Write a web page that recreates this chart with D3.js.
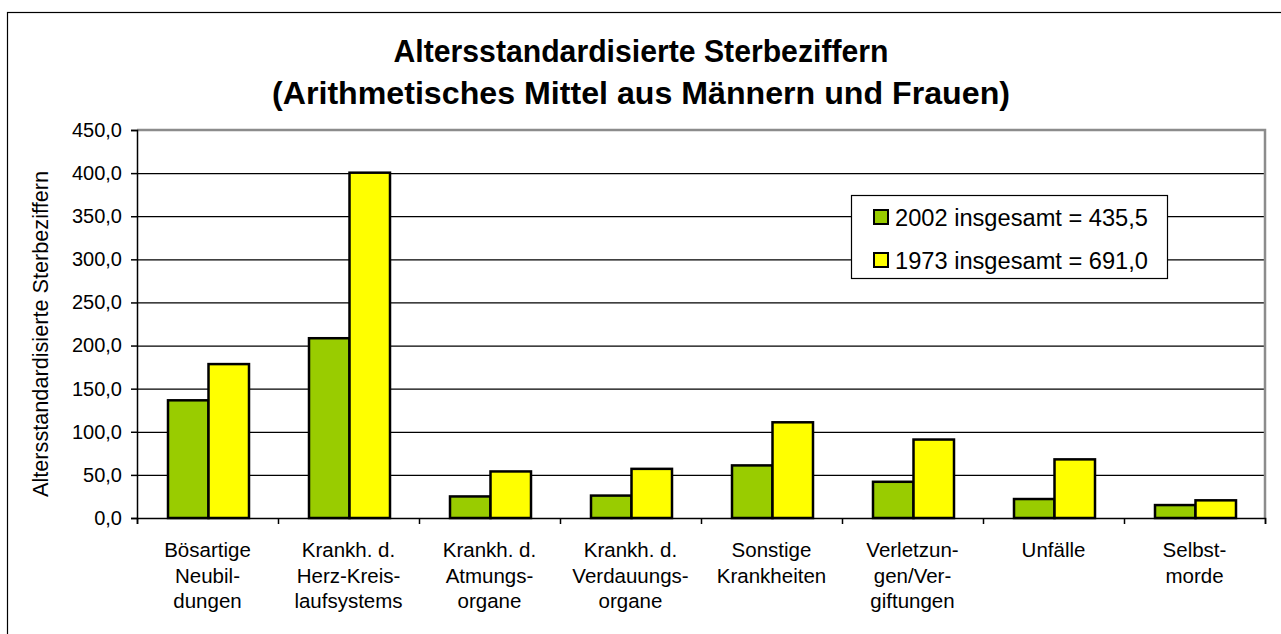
<!DOCTYPE html>
<html><head><meta charset="utf-8">
<script src="https://cdn.jsdelivr.net/npm/d3@7"></script>
<style>body{margin:0;background:#fff;} text{font-family:"Liberation Sans",Arial,sans-serif;}</style>
</head><body>
<svg id="c" width="1281" height="634"></svg>
<script>
const categories = [
  ["Bösartige","Neubil-","dungen"],
  ["Krankh. d.","Herz-Kreis-","laufsystems"],
  ["Krankh. d.","Atmungs-","organe"],
  ["Krankh. d.","Verdauungs-","organe"],
  ["Sonstige","Krankheiten"],
  ["Verletzun-","gen/Ver-","giftungen"],
  ["Unfälle"],
  ["Selbst-","morde"]
];
const series = ["2002 insgesamt = 435,5", "1973 insgesamt = 691,0"];
const values2002 = [136.5, 208.5, 25, 26, 61, 42, 22, 15];
const values1973 = [178.5, 400.5, 54, 57, 111, 91, 68, 20.5];
const yTicks = [0,50,100,150,200,250,300,350,400,450];
const titleLines = ["Altersstandardisierte Sterbeziffern","(Arithmetisches Mittel aus Männern und Frauen)"];
const yTitle = "Altersstandardisierte Sterbeziffern";
const colors = ["#99CC00", "#FFFF00"];

const svg = d3.select("#c");
svg.append("rect").attr("x",7.5).attr("y",12.5).attr("width",1400).attr("height",700)
  .attr("fill","none").attr("stroke","#000").attr("stroke-width",1.2);

const L=137, R=1265, T=130, B=518;
const x0 = d3.scaleBand().domain(d3.range(categories.length)).range([L,R]);
const x1 = d3.scaleBand().domain([0,1]).range([31,112]);
const y = d3.scaleLinear().domain([0,450]).range([B,T]);

svg.append("g").selectAll("line").data(yTicks.filter(t=>t>0 && t<450)).join("line")
  .attr("x1",L).attr("x2",R).attr("y1",d=>y(d)+0.5).attr("y2",d=>y(d)+0.5)
  .attr("stroke","#000").attr("stroke-width",1.2);
svg.append("path").attr("d",`M${L},${T} H${R} V${B}`).attr("fill","none")
  .attr("stroke","#8c8c8c").attr("stroke-width",2.5);

const data = categories.map((c,i)=>({i, v:[values2002[i], values1973[i]]}));
const g = svg.append("g").selectAll("g").data(data).join("g")
  .attr("transform",d=>`translate(${x0(d.i)},0)`);
g.selectAll("rect").data(d=>d.v.map((v,s)=>({v,s}))).join("rect")
  .attr("x",d=>x1(d.s)).attr("width",x1.bandwidth())
  .attr("y",d=>y(d.v)).attr("height",d=>B-y(d.v))
  .attr("fill",d=>colors[d.s]).attr("stroke","#000").attr("stroke-width",2.5);

const yAxis = d3.axisLeft(y).tickValues(yTicks).tickSize(6).tickPadding(9)
  .tickFormat(d=>d3.format(".1f")(d).replace(".",","));
const ya = svg.append("g").attr("transform",`translate(${L},0)`).call(yAxis);
ya.selectAll("text").attr("font-size",20).attr("fill","#000").style("font-family","'Liberation Sans',Arial,sans-serif");
ya.selectAll("line,path").attr("stroke","#000").attr("stroke-width",1.5);

const xTickScale = d3.scaleLinear().domain([0,categories.length]).range([L,R]);
const xa = svg.append("g").attr("transform",`translate(0,${B})`)
  .call(d3.axisBottom(xTickScale).tickValues(d3.range(categories.length+1)).tickSize(6).tickFormat(""));
xa.selectAll("line,path").attr("stroke","#000").attr("stroke-width",1.5);

categories.forEach((lines,i)=>{
  const t = svg.append("text").attr("x",x0(i)+x0.bandwidth()/2).attr("y",557)
    .attr("text-anchor","middle").attr("font-size",20.5).attr("fill","#000");
  lines.forEach((ln,k)=>t.append("tspan").attr("x",x0(i)+x0.bandwidth()/2).attr("dy",k?25.5:0).text(ln));
});

const titleWidths = [495, 738];
titleLines.forEach((tl,k)=>svg.append("text").attr("x",641).attr("y",62+k*42)
  .attr("text-anchor","middle").attr("font-size",31).attr("font-weight","bold").attr("fill","#000")
  .attr("textLength",titleWidths[k]).attr("lengthAdjust","spacingAndGlyphs").text(tl));

svg.append("text").attr("transform",`translate(48,334) rotate(-90)`)
  .attr("text-anchor","middle").attr("font-size",21.5).attr("fill","#000")
  .attr("textLength",326).attr("lengthAdjust","spacingAndGlyphs").text(yTitle);

const lg = svg.append("g");
lg.append("rect").attr("x",851.5).attr("y",195.5).attr("width",316).attr("height",83)
  .attr("fill","#fff").attr("stroke","#000").attr("stroke-width",1.2);
series.forEach((s,k)=>{
  const cy = 217 + k*43;
  lg.append("rect").attr("x",874).attr("y",cy-7).attr("width",14).attr("height",14)
    .attr("fill",colors[k]).attr("stroke","#000").attr("stroke-width",2);
  lg.append("text").attr("x",895).attr("y",cy+8.5).attr("font-size",23.5).attr("fill","#000")
    .attr("textLength",253).attr("lengthAdjust","spacingAndGlyphs").text(s);
});
</script>
</body></html>
